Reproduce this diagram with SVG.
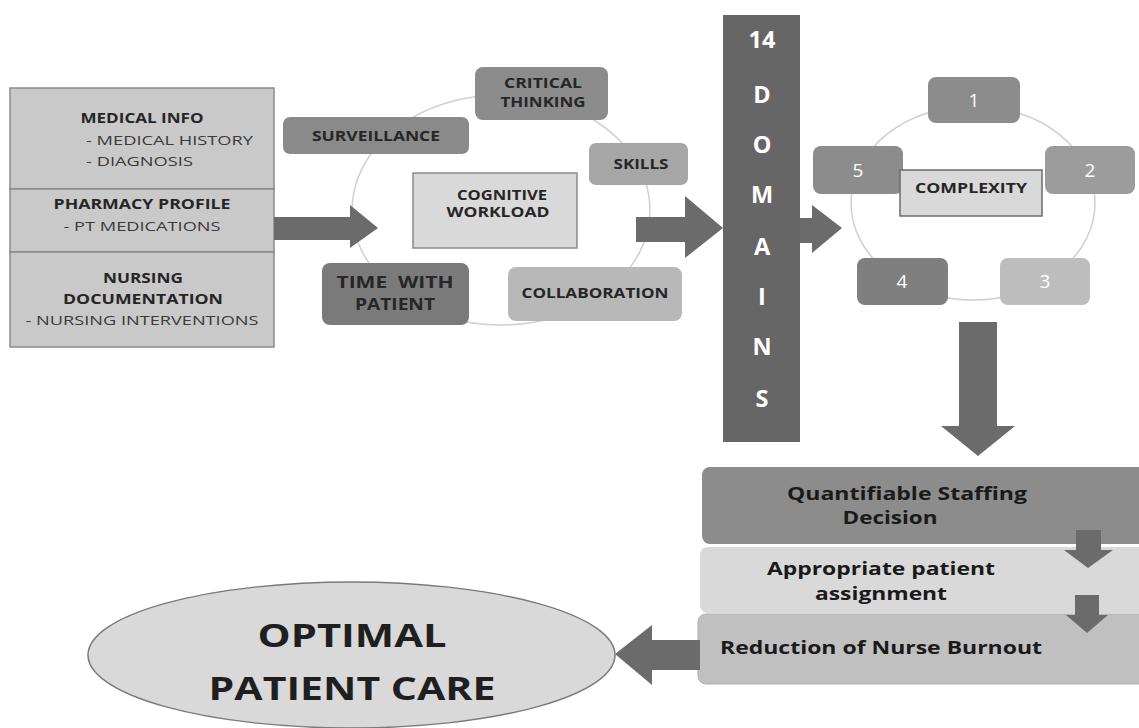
<svg xmlns="http://www.w3.org/2000/svg" width="1139" height="728" viewBox="0 0 1139 728">
  <style>
    text { font-family: "Open Sans", "Liberation Sans", sans-serif; text-anchor: middle; }
    .hd { font-weight: 700; font-size: 13.5px; fill: #262626; }
    .sub { font-weight: 400; font-size: 13.5px; fill: #3a3a3a; }
    .cap { font-weight: 700; font-size: 13.5px; fill: #262626; }
    .num { font-weight: 400; font-size: 19px; fill: #ffffff; }
    .dom { font-weight: 700; font-size: 23.5px; fill: #ffffff; }
    .out { font-weight: 700; font-size: 17.5px; fill: #1a1a1a; }
    .big { font-weight: 700; font-size: 33px; fill: #1f1f1f; }
    .ring { fill: none; stroke: #cfcfcf; stroke-width: 1.5; }
    .arrow { fill: #6b6b6b; }
    .st { text-anchor: start; }
  </style>

  <!-- data sources panel -->
  <g id="sources">
    <rect x="10" y="88" width="264" height="101" fill="#c9c9c9" stroke="#8a8a8a" stroke-width="1.5"/>
    <rect x="10" y="189" width="264" height="63" fill="#c9c9c9" stroke="#8a8a8a" stroke-width="1.5"/>
    <rect x="10" y="252" width="264" height="95" fill="#c9c9c9" stroke="#8a8a8a" stroke-width="1.5"/>
    <text class="hd" x="142" y="123" textLength="123" lengthAdjust="spacingAndGlyphs">MEDICAL INFO</text>
    <text class="sub st" x="86" y="145" textLength="167" lengthAdjust="spacingAndGlyphs">- MEDICAL HISTORY</text>
    <text class="sub st" x="86" y="166" textLength="107" lengthAdjust="spacingAndGlyphs">- DIAGNOSIS</text>
    <text class="hd" x="142" y="209" textLength="177" lengthAdjust="spacingAndGlyphs">PHARMACY PROFILE</text>
    <text class="sub" x="142" y="231" textLength="157" lengthAdjust="spacingAndGlyphs">- PT MEDICATIONS</text>
    <text class="hd" x="143" y="283" textLength="80" lengthAdjust="spacingAndGlyphs">NURSING</text>
    <text class="hd" x="143" y="304" textLength="160" lengthAdjust="spacingAndGlyphs">DOCUMENTATION</text>
    <text class="sub" x="142" y="325" textLength="233" lengthAdjust="spacingAndGlyphs">- NURSING INTERVENTIONS</text>
  </g>

  <!-- cognitive workload cycle -->
  <g id="cognitive-cycle">
    <ellipse class="ring" cx="501" cy="210" rx="149" ry="115"/>
  </g>
  <g id="cognitive-workload">
    <rect x="413" y="173" width="164" height="75" fill="#d9d9d9" stroke="#8a8a8a" stroke-width="1.5"/>
    <text class="cap" x="502" y="200" textLength="90" lengthAdjust="spacingAndGlyphs">COGNITIVE</text>
    <text class="cap" x="498" y="217" textLength="103" lengthAdjust="spacingAndGlyphs">WORKLOAD</text>
  </g>
  <g id="critical-thinking">
    <rect x="475" y="67" width="133" height="53" rx="8" fill="#8c8c8c"/>
    <text class="cap" x="543" y="88" textLength="78" lengthAdjust="spacingAndGlyphs">CRITICAL</text>
    <text class="cap" x="543" y="107" textLength="85" lengthAdjust="spacingAndGlyphs">THINKING</text>
  </g>
  <g id="surveillance">
    <rect x="283" y="117" width="186" height="37" rx="7" fill="#8a8a8a"/>
    <text class="cap" x="376" y="141" textLength="128" lengthAdjust="spacingAndGlyphs">SURVEILLANCE</text>
  </g>
  <g id="skills">
    <rect x="589" y="143" width="99" height="42" rx="7" fill="#a6a6a6"/>
    <text class="cap" x="641" y="169" textLength="55" lengthAdjust="spacingAndGlyphs">SKILLS</text>
  </g>
  <g id="time-with-patient">
    <rect x="322" y="263" width="147" height="62" rx="8" fill="#7a7a7a"/>
    <text class="cap" x="395" y="288" style="font-size:16px" xml:space="preserve" textLength="117" lengthAdjust="spacingAndGlyphs">TIME  WITH</text>
    <text class="cap" x="395" y="310" style="font-size:16px" textLength="80" lengthAdjust="spacingAndGlyphs">PATIENT</text>
  </g>
  <g id="collaboration">
    <rect x="508" y="267" width="174" height="54" rx="8" fill="#b8b8b8"/>
    <text class="cap" x="595" y="298" textLength="147" lengthAdjust="spacingAndGlyphs">COLLABORATION</text>
  </g>

  <!-- domains bar -->
  <g id="domains">
    <rect x="723" y="15" width="77" height="427" fill="#666666"/>
    <text class="dom" x="762" y="48">14</text>
    <text class="dom" x="762" y="103">D</text>
    <text class="dom" x="762" y="153">O</text>
    <text class="dom" x="762" y="203">M</text>
    <text class="dom" x="762" y="255">A</text>
    <text class="dom" x="762" y="305">I</text>
    <text class="dom" x="762" y="355">N</text>
    <text class="dom" x="762" y="407">S</text>
  </g>

  <!-- complexity cycle -->
  <g id="complexity-cycle">
    <ellipse class="ring" cx="973" cy="203" rx="122" ry="97"/>
  </g>
  <g id="level-1">
    <rect x="928" y="77" width="92" height="46" rx="8" fill="#8c8c8c"/>
    <text class="num" x="974" y="107">1</text>
  </g>
  <g id="level-2">
    <rect x="1045" y="146" width="90" height="48" rx="8" fill="#9c9c9c"/>
    <text class="num" x="1090" y="177">2</text>
  </g>
  <g id="level-3">
    <rect x="1000" y="258" width="90" height="47" rx="8" fill="#bdbdbd"/>
    <text class="num" x="1045" y="288">3</text>
  </g>
  <g id="level-4">
    <rect x="857" y="258" width="91" height="47" rx="8" fill="#7f7f7f"/>
    <text class="num" x="902" y="288">4</text>
  </g>
  <g id="level-5">
    <rect x="813" y="146" width="90" height="48" rx="8" fill="#8c8c8c"/>
    <text class="num" x="858" y="177">5</text>
  </g>
  <g id="complexity">
    <rect x="900" y="170" width="142" height="46" fill="#d9d9d9" stroke="#6b6b6b" stroke-width="1.5"/>
    <text class="cap" x="971" y="193" textLength="112" lengthAdjust="spacingAndGlyphs">COMPLEXITY</text>
  </g>

  <!-- outcome stack -->
  <g id="staffing-decision">
    <rect x="702" y="467" width="450" height="77" rx="8" fill="#8c8c8c"/>
    <text class="out" x="907" y="500" textLength="240" lengthAdjust="spacingAndGlyphs">Quantifiable Staffing</text>
    <text class="out" x="890" y="524" textLength="95" lengthAdjust="spacingAndGlyphs">Decision</text>
  </g>
  <g id="patient-assignment">
    <rect x="700" y="547" width="452" height="66" rx="8" fill="#d9d9d9"/>
    <text class="out" x="881" y="575" textLength="228" lengthAdjust="spacingAndGlyphs">Appropriate patient</text>
    <text class="out" x="881" y="600" textLength="132" lengthAdjust="spacingAndGlyphs">assignment</text>
  </g>
  <g id="nurse-burnout">
    <rect x="698" y="614" width="454" height="70" rx="8" fill="#c0c0c0" stroke="#b0b0b0" stroke-width="1"/>
    <text class="out st" x="720" y="654" textLength="322" lengthAdjust="spacingAndGlyphs">Reduction of Nurse Burnout</text>
  </g>
  <g id="optimal-care">
    <ellipse cx="351.5" cy="655" rx="263.5" ry="73" fill="#d9d9d9" stroke="#7a7a7a" stroke-width="1.5"/>
    <text class="big" x="352" y="647" textLength="189" lengthAdjust="spacingAndGlyphs">OPTIMAL</text>
    <text class="big" x="352" y="700" textLength="287" lengthAdjust="spacingAndGlyphs">PATIENT CARE</text>
  </g>

  <!-- block arrows -->
  <g id="connectors">
    <polygon class="arrow" points="274,217 350,217 350,205 378,228 350,248 350,240 274,240"/>
    <polygon class="arrow" points="636,217 685,217 685,196 723,228 685,258 685,242 636,242"/>
    <polygon class="arrow" points="800,218 812,218 812,205 842,228 812,253 812,243 800,243"/>
    <polygon class="arrow" points="959,322 997,322 997,426 1015,426 978,456 941,426 959,426"/>
    <polygon class="arrow" points="1076,530 1101,530 1101,550 1113,550 1088,568 1064,550 1076,550"/>
    <polygon class="arrow" points="1075,595 1099,595 1099,615 1108,615 1087,633 1066,615 1075,615"/>
    <polygon class="arrow" points="700,640 652,640 652,625 615,654 652,685 652,670 700,670"/>
  </g>
</svg>
